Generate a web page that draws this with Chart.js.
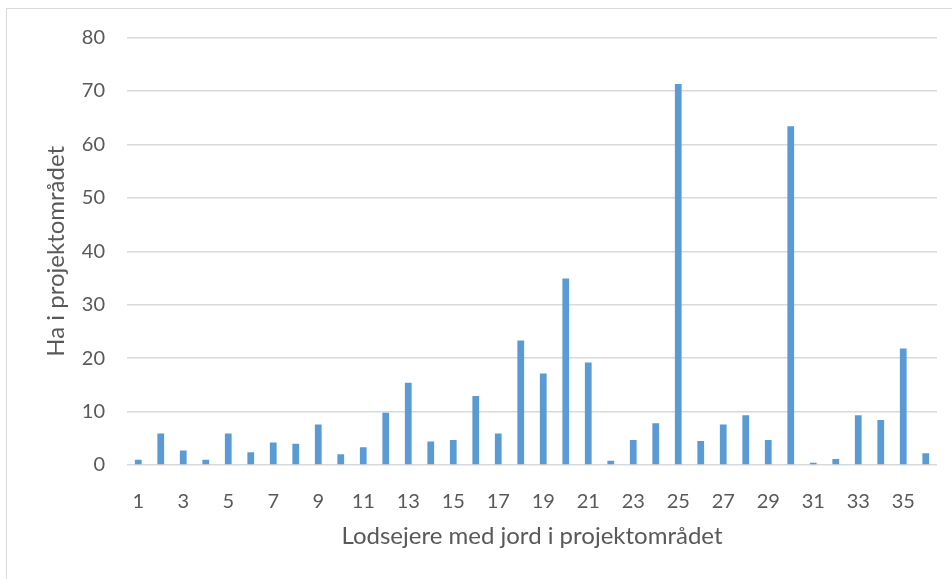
<!DOCTYPE html>
<html>
<head>
<meta charset="utf-8">
<script src="https://cdn.jsdelivr.net/npm/chart.js@4/dist/chart.umd.min.js"></script>
<style>
  html, body { margin: 0; padding: 0; background: #fff; overflow: hidden; }
  #frame { position: absolute; left: 6px; top: 8px; width: 960px; height: 600px; border: 1px solid #d9d9d9; }
  #wrap { position: absolute; left: 0; top: 0; width: 952px; height: 579px; }
</style>
</head>
<body>
<div id="frame"></div>
<div id="wrap"><canvas id="chart" width="952" height="579"></canvas></div>
<script>
const owners = Array.from({ length: 36 }, (_, i) => String(i + 1));
const hectares = [
  1.0, 5.9, 2.7, 1.0, 5.9, 2.4, 4.2, 4.0, 7.6, 2.0,
  3.3, 9.8, 15.4, 4.4, 4.7, 12.9, 5.9, 23.3, 17.1, 34.9,
  19.2, 0.8, 4.7, 7.8, 71.3, 4.5, 7.6, 9.3, 4.7, 63.4,
  0.4, 1.1, 9.3, 8.4, 21.8, 2.2
];
const yTicks = [0, 10, 20, 30, 40, 50, 60, 70, 80];

const textColor = "#595959";
const gridColor = "#d9d9d9";
const fontFamily = "Lato, 'Open Sans', sans-serif";

new Chart(document.getElementById("chart").getContext("2d"), {
  type: "bar",
  data: {
    labels: owners,
    datasets: [{
      data: hectares,
      backgroundColor: "#5b9bd5",
      barPercentage: 0.3,
      categoryPercentage: 1
    }]
  },
  options: {
    responsive: false,
    animation: false,
    layout: { padding: { top: 37.5, right: 15, left: 0, bottom: 0 } },
    plugins: { legend: { display: false }, tooltip: { enabled: false } },
    scales: {
      x: {
        grid: { display: false, drawTicks: false },
        border: { display: false },
        ticks: {
          color: textColor,
          font: { family: fontFamily, size: 20 },
          autoSkip: false,
          maxRotation: 0,
          padding: 25,
          callback: (value, index) => (index % 2 === 0 ? owners[index] : "")
        },
        title: {
          display: true,
          text: "Lodsejere med jord i projektområdet",
          color: textColor,
          font: { family: fontFamily, size: 24 },
          padding: { top: 28, bottom: 28 }
        },
        afterFit: (scale) => { scale.height = 114; }
      },
      y: {
        min: 0,
        max: 80,
        afterBuildTicks: (scale) => { scale.ticks = yTicks.map((v) => ({ value: v })); },
        grid: { color: gridColor, lineWidth: 1.5, drawTicks: false },
        border: { display: false },
        ticks: {
          color: textColor,
          font: { family: fontFamily, size: 20 },
          padding: 22
        },
        title: {
          display: true,
          text: "Ha i projektområdet",
          color: textColor,
          font: { family: fontFamily, size: 24 },
          padding: { top: 42, bottom: 42 }
        },
        afterFit: (scale) => { scale.width = 127; }
      }
    }
  }
});
</script>
</body>
</html>
